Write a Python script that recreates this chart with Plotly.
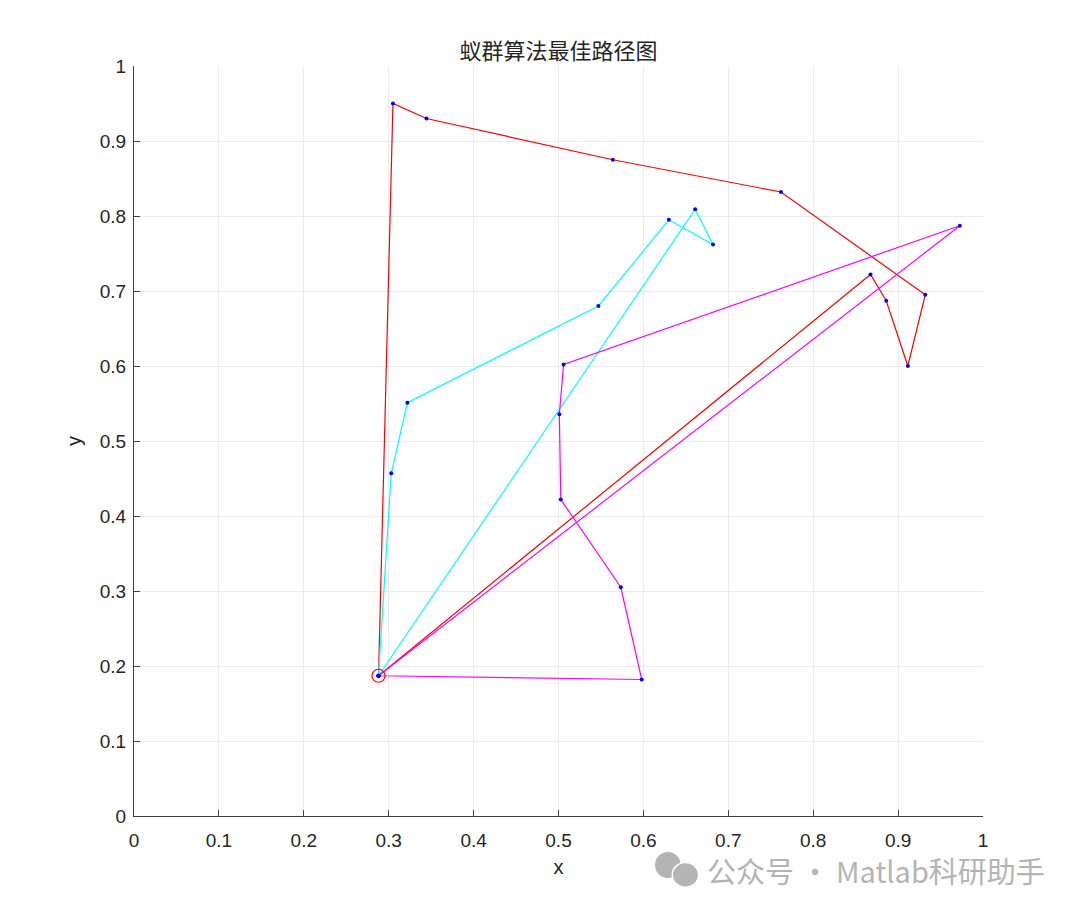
import plotly.graph_objects as go

# Start city
start_x = [0.288]
start_y = [0.187]

# Route 1 (red)
red_x = [0.288, 0.305, 0.3445, 0.564, 0.762, 0.932, 0.9115, 0.886, 0.8675, 0.288]
red_y = [0.187, 0.950, 0.930, 0.875, 0.832, 0.695, 0.600, 0.687, 0.722, 0.187]

# Route 2 (cyan)
cyan_x = [0.288, 0.303, 0.322, 0.547, 0.630, 0.682, 0.661, 0.288]
cyan_y = [0.187, 0.457, 0.551, 0.680, 0.795, 0.762, 0.809, 0.187]

# Route 3 (magenta)
mag_x = [0.288, 0.598, 0.5734, 0.5027, 0.501, 0.506, 0.9727, 0.288]
mag_y = [0.187, 0.182, 0.305, 0.422, 0.5356, 0.602, 0.787, 0.187]

ticks = [0, 0.1, 0.2, 0.3, 0.4, 0.5, 0.6, 0.7, 0.8, 0.9, 1]
tick_text = ["0", "0.1", "0.2", "0.3", "0.4", "0.5", "0.6", "0.7", "0.8", "0.9", "1"]

fig = go.Figure()
for xs, ys, c in [(red_x, red_y, "#ff0000"), (cyan_x, cyan_y, "#00ffff"), (mag_x, mag_y, "#ff00ff")]:
    fig.add_trace(go.Scatter(x=xs, y=ys, mode="lines", line=dict(color=c, width=1.2),
                             showlegend=False, hoverinfo="skip"))
for xs, ys in [(red_x, red_y), (cyan_x, cyan_y), (mag_x, mag_y)]:
    fig.add_trace(go.Scatter(x=xs, y=ys, mode="markers", marker=dict(color="#0000ff", size=4),
                             showlegend=False))
fig.add_trace(go.Scatter(x=start_x, y=start_y, mode="markers",
                         marker=dict(symbol="circle-open", color="#ff0000", size=13, line=dict(width=1.2)),
                         showlegend=False))

axis_common = dict(
    range=[0, 1], tickmode="array", tickvals=ticks, ticktext=tick_text,
    showgrid=True, gridcolor="#ebebeb", gridwidth=1, zeroline=False,
    showline=True, linecolor="#404040", linewidth=1,
    ticks="inside", ticklen=6, tickcolor="#404040",
    tickfont=dict(family="Liberation Sans, Arial", size=19, color="#262626"),
)
fig.update_xaxes(**axis_common, ticklabelstandoff=7,
                 title=dict(text="x", font=dict(family="Liberation Sans, Arial", size=20, color="#262626"), standoff=10))
fig.update_yaxes(**axis_common, ticklabelstandoff=3,
                 title=dict(text="y", font=dict(family="Liberation Sans, Arial", size=20, color="#262626"), standoff=12))

fig.update_layout(
    width=1080, height=913,
    margin=dict(l=126, r=105, t=58, b=105),
    paper_bgcolor="white", plot_bgcolor="white",
    title=dict(text="蚁群算法最佳路径图", x=0.5, xref="paper", xanchor="center", y=0.953, yanchor="middle",
               font=dict(family="Noto Sans CJK SC", size=22, color="#262626")),
    annotations=[dict(text="公众号 · Matlab科研助手", xref="paper", yref="paper",
                      x=1.075, y=-0.072, xanchor="right", yanchor="middle", showarrow=False,
                      font=dict(family="Noto Sans CJK SC", size=29, color="#b4b4b4"))],
    shapes=[
        dict(type="circle", xref="paper", yref="paper", x0=0.6137, x1=0.644, y0=-0.0827, y1=-0.048,
             fillcolor="#b4b4b4", line=dict(width=0)),
        dict(type="circle", xref="paper", yref="paper", x0=0.634, x1=0.665, y0=-0.095, y1=-0.062,
             fillcolor="#b4b4b4", line=dict(color="white", width=1.5)),
    ],
)
fig.write_html("out.html")
